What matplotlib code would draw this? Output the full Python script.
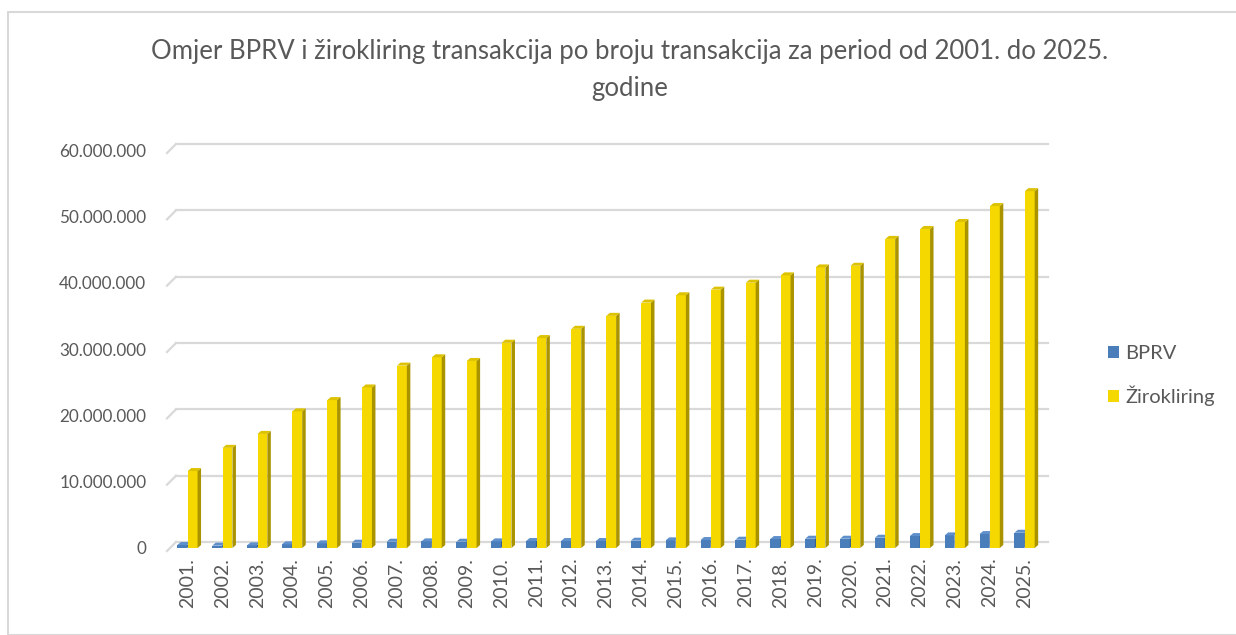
import matplotlib
matplotlib.use("Agg")
import matplotlib.pyplot as plt
import matplotlib.transforms as mtransforms
from matplotlib.patches import Rectangle, Polygon, Patch
from matplotlib.lines import Line2D
import numpy as np

plt.rcParams['font.family'] = ['Lato', 'DejaVu Sans']

years = ["2001.", "2002.", "2003.", "2004.", "2005.", "2006.", "2007.", "2008.", "2009.",
         "2010.", "2011.", "2012.", "2013.", "2014.", "2015.", "2016.", "2017.", "2018.",
         "2019.", "2020.", "2021.", "2022.", "2023.", "2024.", "2025."]
bprv = [450000, 350000, 400000, 550000, 700000, 800000, 950000, 1000000, 950000,
        1000000, 1050000, 1050000, 1050000, 1100000, 1150000, 1200000, 1250000, 1350000,
        1400000, 1400000, 1550000, 1800000, 1900000, 2100000, 2300000]
zirokliring = [11600000, 15100000, 17200000, 20600000, 22300000, 24200000, 27500000,
               28750000, 28200000, 30950000, 31650000, 33050000, 35000000, 37000000,
               38100000, 38950000, 40000000, 41100000, 42300000, 42550000, 46600000,
               48100000, 49150000, 51550000, 53800000]
series_names = ["BPRV", "Žirokliring"]
yticks = [0, 10000000, 20000000, 30000000, 40000000, 50000000, 60000000]
ytick_labels = ["0", "10.000.000", "20.000.000", "30.000.000", "40.000.000",
                "50.000.000", "60.000.000"]
title = "Omjer BPRV i žirokliring transakcija po broju transakcija za period od 2001. do 2025.\ngodine"

W, H = 1236, 635
DPI = 100
fig = plt.figure(figsize=(W / DPI, H / DPI), dpi=DPI)

# chart border
fig.patches.append(Rectangle((8 / W, 0), (W - 8) / W + 0.01, (H - 12) / H, transform=fig.transFigure,
                             fill=False, edgecolor="#d9d9d9", linewidth=1.5))

left_px, right_px = 170, 1042
bottom_px = 548
ymax = 60000000
px_per_unit = 6.633 / 1e6
top_px = bottom_px - ymax * px_per_unit
ax = fig.add_axes([left_px / W, 1 - bottom_px / H, (right_px - left_px) / W, (bottom_px - top_px) / H])
ax.set_xlim(-0.5, len(years) - 0.5)
ax.set_ylim(0, ymax)
for s in ax.spines.values():
    s.set_visible(False)
ax.set_facecolor("none")

grey = "#595959"


def off(dx, dy):
    return mtransforms.ScaledTranslation(dx / DPI, dy / DPI, fig.dpi_scale_trans)


# gridlines on the back wall with a short 3D stub at the left
blend = mtransforms.blended_transform_factory(ax.transAxes, ax.transData)
for yv in yticks:
    p0 = blend.transform((0, yv))
    ax.add_line(Line2D([p0[0] - 3, p0[0] + 6], [p0[1] - 3, p0[1] + 6], transform=None,
                       color="#d9d9d9", lw=1.6, clip_on=False))
    ax.add_line(Line2D([0, 1], [yv, yv], transform=blend + off(6, 6), color="#d9d9d9",
                       lw=1.6, clip_on=False))

x = np.arange(len(years))
w = 0.28
cols = [("#4a7ebb", "#35608f", "#5f90cc"), ("#f5d800", "#a99400", "#dcc200")]
dxp, dyp = 3.5, 3.0
dx = dxp / ((right_px - left_px) / len(years))
dy = dyp / px_per_unit

for vals, offset, (cf, cs, ct), name in zip([bprv, zirokliring], [-0.15, 0.15], cols, series_names):
    ax.bar(x + offset, vals, width=w, color=cf, edgecolor="none", zorder=3, label=name)
    for xi, v in zip(x + offset, vals):
        x0, x1 = xi - w / 2, xi + w / 2
        side = Polygon([(x1, 0), (x1 + dx, dy), (x1 + dx, v + dy), (x1, v)], closed=True,
                       facecolor=cs, edgecolor="none", zorder=3)
        topc = Polygon([(x0, v), (x1, v), (x1 + dx, v + dy), (x0 + dx, v + dy)], closed=True,
                       facecolor=ct, edgecolor="none", zorder=3)
        ax.add_patch(side)
        ax.add_patch(topc)

ax.set_yticks(yticks)
ax.set_yticklabels(ytick_labels)
ax.set_xticks(x)
ax.set_xticklabels(years, rotation=90, va="top", ha="center")
ax.tick_params(axis="y", length=0, pad=17, labelsize=12.3, labelcolor=grey)
ax.tick_params(axis="x", length=0, pad=7, labelsize=14, labelcolor=grey)

fig.text(630 / W, 1 - 39 / H, title, ha="center", va="top", fontsize=18.5, color=grey,
         linespacing=1.6)

handles = [Patch(facecolor=cols[0][0]), Patch(facecolor=cols[1][0])]
fig.legend(handles, series_names, loc="upper left", bbox_to_anchor=(1090 / W, 1 - 327 / H),
           frameon=False, fontsize=14.5, labelcolor=grey, handlelength=0.55, handleheight=0.55,
           handletextpad=0.3, labelspacing=1.15)

fig.savefig("out.png", dpi=DPI)
